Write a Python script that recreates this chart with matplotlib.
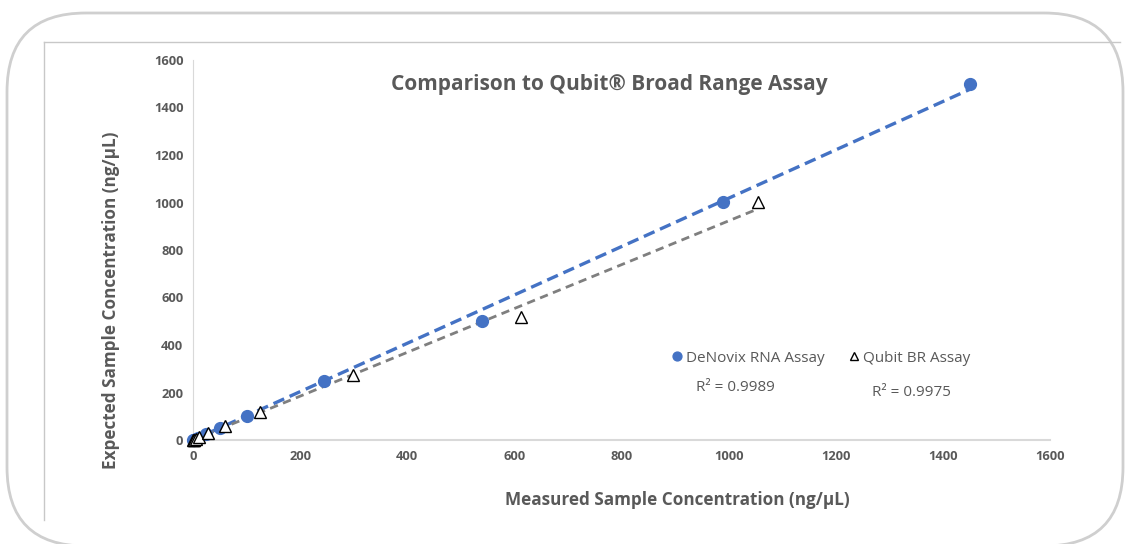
import numpy as np
import matplotlib as mpl
mpl.use("Agg")
import matplotlib.pyplot as plt
from matplotlib.patches import FancyBboxPatch
from matplotlib.lines import Line2D

plt.rcParams['font.family'] = ['Open Sans', 'DejaVu Sans']

# measured (x) vs expected (y), ng/uL
denovix_x = [0.5, 1, 2, 5, 10, 25, 50, 100, 245, 540, 990, 1450]
denovix_y = [0.5, 1, 2, 5, 10, 25, 50, 100, 250, 500, 1000, 1500]
qubit_x = [0.5, 1, 2, 5, 12, 28, 60, 125, 299, 612, 1055]
qubit_y = [0.5, 1, 2, 5, 12, 28, 58, 117, 272, 520, 1000]
r2_denovix = 0.9989
r2_qubit = 0.9975

gray = '#595959'
blue = '#4472c4'
W, H = 1126, 544

fig = plt.figure(figsize=(W/100, H/100), dpi=100)

# rounded outer frame + inner chart box
frame = FancyBboxPatch((7/W, -2/H), 1116/W, 533/H,
                       boxstyle="round,pad=0,rounding_size=0.07",
                       transform=fig.transFigure, fill=False,
                       edgecolor='#cfcfcf', linewidth=2.0,
                       mutation_aspect=W/H)
fig.patches.append(frame)
fig.add_artist(Line2D([44/W, 1120/W], [1-42/H, 1-42/H],
                      color='#c8c8c8', lw=1.0, transform=fig.transFigure))
fig.add_artist(Line2D([44/W, 44/W], [1-42/H, 1-520/H],
                      color='#c8c8c8', lw=1.0, transform=fig.transFigure))

ax = fig.add_axes([193/W, 1-440/H, 857/W, 380/H])

dx = np.array(denovix_x); dy = np.array(denovix_y)
qx = np.array(qubit_x); qy = np.array(qubit_y)

# linear trend lines through the origin
kd = np.sum(dx*dy)/np.sum(dx*dx)
kq = np.sum(qx*qy)/np.sum(qx*qx)
xd = np.array([0, dx.max()])
xq = np.array([0, qx.max()])
ax.plot(xd, kd*xd, '--', color=blue, lw=2.4, dashes=(3.5, 1.8), zorder=2)
ax.plot(xq, kq*xq, '--', color='#7f7f7f', lw=2.0, dashes=(3, 2), zorder=2)

ax.plot(dx, dy, 'o', color=blue, ms=8.5, ls='none', zorder=3, clip_on=False,
        label='DeNovix RNA Assay')
ax.plot(qx, qy, '^', mfc='white', mec='black', mew=1.0, ms=8, ls='none', zorder=4,
        clip_on=False, label='Qubit BR Assay')

ax.set_xlim(0, 1600)
ax.set_ylim(0, 1600)
ax.set_xticks(np.arange(0, 1601, 200))
ax.set_yticks(np.arange(0, 1601, 200))
for s in ['top', 'right']:
    ax.spines[s].set_visible(False)
ax.spines['left'].set_color('#d9d9d9')
ax.spines['bottom'].set_color('#d9d9d9')
ax.spines['bottom'].set_linewidth(1.5)
ax.tick_params(length=0, labelsize=9.3, labelcolor=gray, pad=7)
for lab in ax.get_xticklabels() + ax.get_yticklabels():
    lab.set_fontweight('bold')

fig.text(677/W, 1-500/H, 'Measured Sample Concentration (ng/μL)', fontsize=12.3,
         fontweight='bold', color=gray, ha='center', va='center')
fig.text(111/W, 1-300/H, 'Expected Sample Concentration (ng/μL)', fontsize=12.3,
         fontweight='bold', color=gray, ha='center', va='center', rotation=90)

ax.text((609-193)/857, 0.935, 'Comparison to Qubit® Broad Range Assay',
        transform=ax.transAxes, ha='center', va='center', fontsize=15,
        fontweight='bold', color=gray)

leg = ax.legend(loc='center left', bbox_to_anchor=(470/857, 1-(358-60)/380), ncol=2,
                frameon=False, fontsize=11, handletextpad=0.1, columnspacing=1.4,
                handlelength=1.0, markerscale=0.75, borderaxespad=0)
for t in leg.get_texts():
    t.set_color(gray)

ax.text(1012, 223, 'R² = %.4f' % r2_denovix, ha='center', va='center',
        fontsize=11, color=gray)
ax.text(1342, 198, 'R² = %.4f' % r2_qubit, ha='center', va='center',
        fontsize=11, color=gray)

fig.savefig('out.png', dpi=100)
